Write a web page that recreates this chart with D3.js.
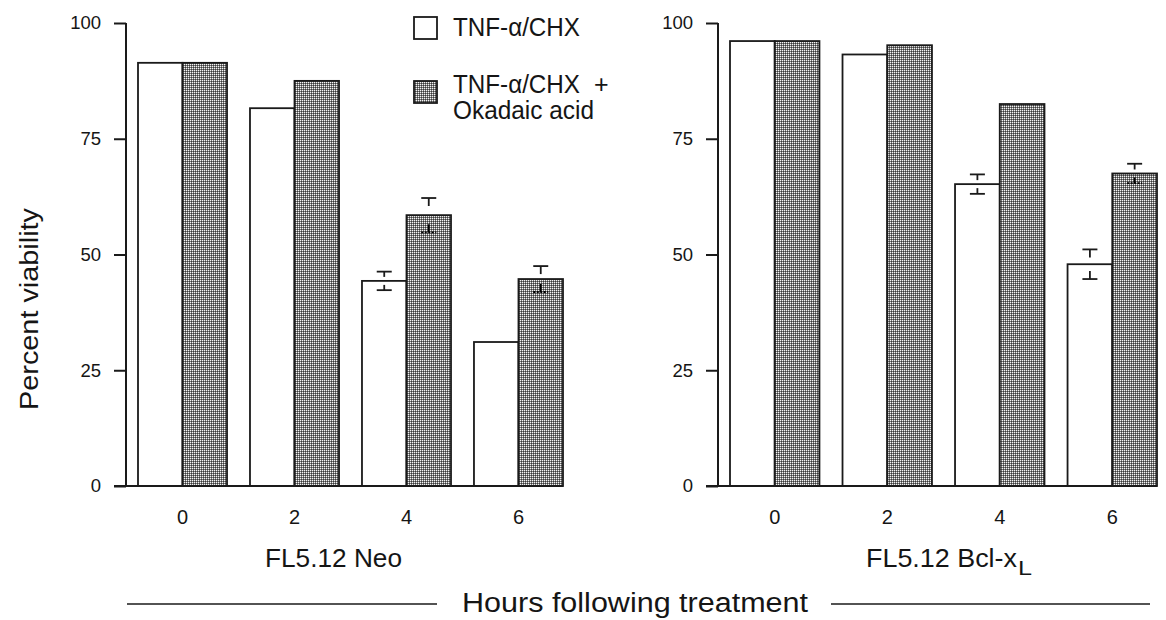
<!DOCTYPE html>
<html><head><meta charset="utf-8">
<script src="https://cdn.jsdelivr.net/npm/d3@7"></script>
<style>body{margin:0;background:#fff}svg{display:block}text{font-family:"Liberation Sans",Arial,sans-serif;fill:#151515}</style>
</head><body>
<svg id="c" width="1166" height="620"></svg>
<script>
const hours = ["0","2","4","6"];
const series = ["TNF-α/CHX","TNF-α/CHX + Okadaic acid"];
const yTicks = [0,25,50,75,100];
// Left panel: FL5.12 Neo
const neoPlain = [91.4, 81.6, 44.3, 31.1];
const neoOkadaic = [91.4, 87.5, 58.5, 44.7];
const neoPlainErr = [null, null, 2.0, null];
const neoOkadaicErr = [null, null, 3.7, 2.8];
// Right panel: FL5.12 Bcl-xL
const bclPlain = [96.1, 93.2, 65.2, 47.9];
const bclOkadaic = [96.1, 95.2, 82.5, 67.5];
const bclPlainErr = [null, null, 2.1, 3.2];
const bclOkadaicErr = [null, null, null, 2.1];

const svg = d3.select("#c");
const defs = svg.append("defs");
const pat = defs.append("pattern").attr("id","dots").attr("patternUnits","userSpaceOnUse")
  .attr("width",2).attr("height",2);
pat.append("rect").attr("width",2).attr("height",2).attr("fill","#7a7a7a");
pat.append("rect").attr("x",0).attr("y",0).attr("width",1).attr("height",1).attr("fill","#f4f4f4");
pat.append("rect").attr("x",1).attr("y",1).attr("width",1).attr("height",1).attr("fill","#3a3a3a");

const y = d3.scaleLinear().domain([0,100]).range([486,23]);
const ink = "#1a1a1a";

function panel(cfg){
  const g = svg.append("g");
  const x = d3.scaleBand().domain(hours).range(cfg.range).paddingInner(0.205).paddingOuter(0);
  const xs = d3.scaleBand().domain([0,1]).range([0,x.bandwidth()]);
  // y axis
  const ax = g.append("g").attr("transform",`translate(${cfg.axisX},0)`)
    .call(d3.axisLeft(y).tickValues(yTicks).tickSize(12).tickPadding(13));
  ax.select(".domain").remove();
  ax.append("line").attr("x1",0).attr("x2",0).attr("y1",y(100)).attr("y2",y(0)).attr("stroke",ink).attr("stroke-width",2);
  ax.selectAll(".tick line").attr("stroke",ink).attr("stroke-width",2);
  ax.selectAll(".tick text").attr("font-size",18.5).attr("fill",ink).attr("font-family","Liberation Sans, Arial, sans-serif");
  // bars
  const rows = hours.map((h,i)=>({h, vals:[cfg.a[i],cfg.b[i]], errs:[cfg.ea[i],cfg.eb[i]]}));
  rows.forEach(r=>{
    r.vals.forEach((v,j)=>{
      g.append("rect").attr("x",x(r.h)+xs(j)).attr("y",y(v))
        .attr("width",xs.bandwidth()).attr("height",y(0)-y(v))
        .attr("fill", j===0 ? "#fff" : "url(#dots)")
        .attr("stroke",ink).attr("stroke-width",1.8);
    });
  });
  // baseline
  g.append("line").attr("x1",cfg.axisX-12).attr("x2",cfg.range[1]).attr("y1",y(0)).attr("y2",y(0))
    .attr("stroke",ink).attr("stroke-width",2);
  // error bars
  rows.forEach(r=>{
    r.errs.forEach((e,j)=>{
      if(e==null) return;
      const v = r.vals[j];
      const cx = x(r.h)+xs(j)+xs.bandwidth()/2;
      const top = y(v+e), bot = y(v-e), bar = y(v);
      const hw = 7.5;
      const eg = g.append("g").attr("stroke", ink).attr("stroke-width",1.8);
      eg.append("line").attr("x1",cx-hw).attr("x2",cx+hw).attr("y1",top).attr("y2",top);
      eg.append("line").attr("x1",cx).attr("x2",cx).attr("y1",top).attr("y2",Math.max(top+2, Math.min(top+8, bar-4)));
      const lw = j===0 ? ink : "#000";
      eg.append("line").attr("x1",cx-hw).attr("x2",cx+hw).attr("y1",bot).attr("y2",bot)
        .attr("stroke",lw).attr("stroke-dasharray", j===1 ? "2,1.5" : null);
      eg.append("line").attr("x1",cx).attr("x2",cx).attr("y1",bot).attr("y2",Math.min(bot-2, Math.max(bot-8, bar+4)))
        .attr("stroke",lw);
    });
  });
  // x tick labels
  g.selectAll(".xl").data(hours).join("text").attr("class","xl")
    .attr("x",d=>x(d)+x.bandwidth()/2).attr("y",524).attr("text-anchor","middle")
    .attr("font-size",20).text(d=>d);
  // panel label
  const t = g.append("text").attr("x",cfg.labelX).attr("y",567).attr("font-size",26)
    .attr("textLength",cfg.labelLen).attr("lengthAdjust","spacingAndGlyphs").text(cfg.label);
  if(cfg.sub){
    g.append("text").attr("x",cfg.labelX+cfg.labelLen+1).attr("y",575).attr("font-size",20)
      .attr("textLength",14).attr("lengthAdjust","spacingAndGlyphs").text(cfg.sub);
  }
}

panel({range:[138,563], axisX:126, a:neoPlain, b:neoOkadaic, ea:neoPlainErr, eb:neoOkadaicErr,
  label:"FL5.12 Neo", labelX:265, labelLen:137});
panel({range:[730,1157], axisX:718, a:bclPlain, b:bclOkadaic, ea:bclPlainErr, eb:bclOkadaicErr,
  label:"FL5.12 Bcl-x", labelX:866, labelLen:151, sub:"L"});

// legend
const lg = svg.append("g");
lg.append("rect").attr("x",414).attr("y",17).attr("width",23).attr("height",22)
  .attr("fill","#fff").attr("stroke",ink).attr("stroke-width",1.8);
lg.append("text").attr("x",453).attr("y",36).attr("font-size",25)
  .attr("textLength",127).attr("lengthAdjust","spacingAndGlyphs").text(series[0]);
lg.append("rect").attr("x",414).attr("y",81).attr("width",23).attr("height",22)
  .attr("fill","url(#dots)").attr("stroke",ink).attr("stroke-width",1.8);
lg.append("text").attr("x",453).attr("y",93).attr("font-size",25)
  .attr("textLength",127).attr("lengthAdjust","spacingAndGlyphs").text("TNF-α/CHX");
lg.append("text").attr("x",594).attr("y",93).attr("font-size",25).text("+");
lg.append("text").attr("x",453).attr("y",119).attr("font-size",25)
  .attr("textLength",141).attr("lengthAdjust","spacingAndGlyphs").text("Okadaic acid");

// y title
svg.append("text").attr("transform","translate(38,309) rotate(-90)").attr("text-anchor","middle")
  .attr("font-size",26).attr("textLength",202).attr("lengthAdjust","spacingAndGlyphs").text("Percent viability");

// bottom title with rules
svg.append("text").attr("x",462).attr("y",612).attr("font-size",27)
  .attr("textLength",346).attr("lengthAdjust","spacingAndGlyphs").text("Hours following treatment");
svg.append("line").attr("x1",127).attr("x2",437).attr("y1",604).attr("y2",604).attr("stroke",ink).attr("stroke-width",1.6);
svg.append("line").attr("x1",831).attr("x2",1150).attr("y1",604).attr("y2",604).attr("stroke",ink).attr("stroke-width",1.6);
</script>
</body></html>
